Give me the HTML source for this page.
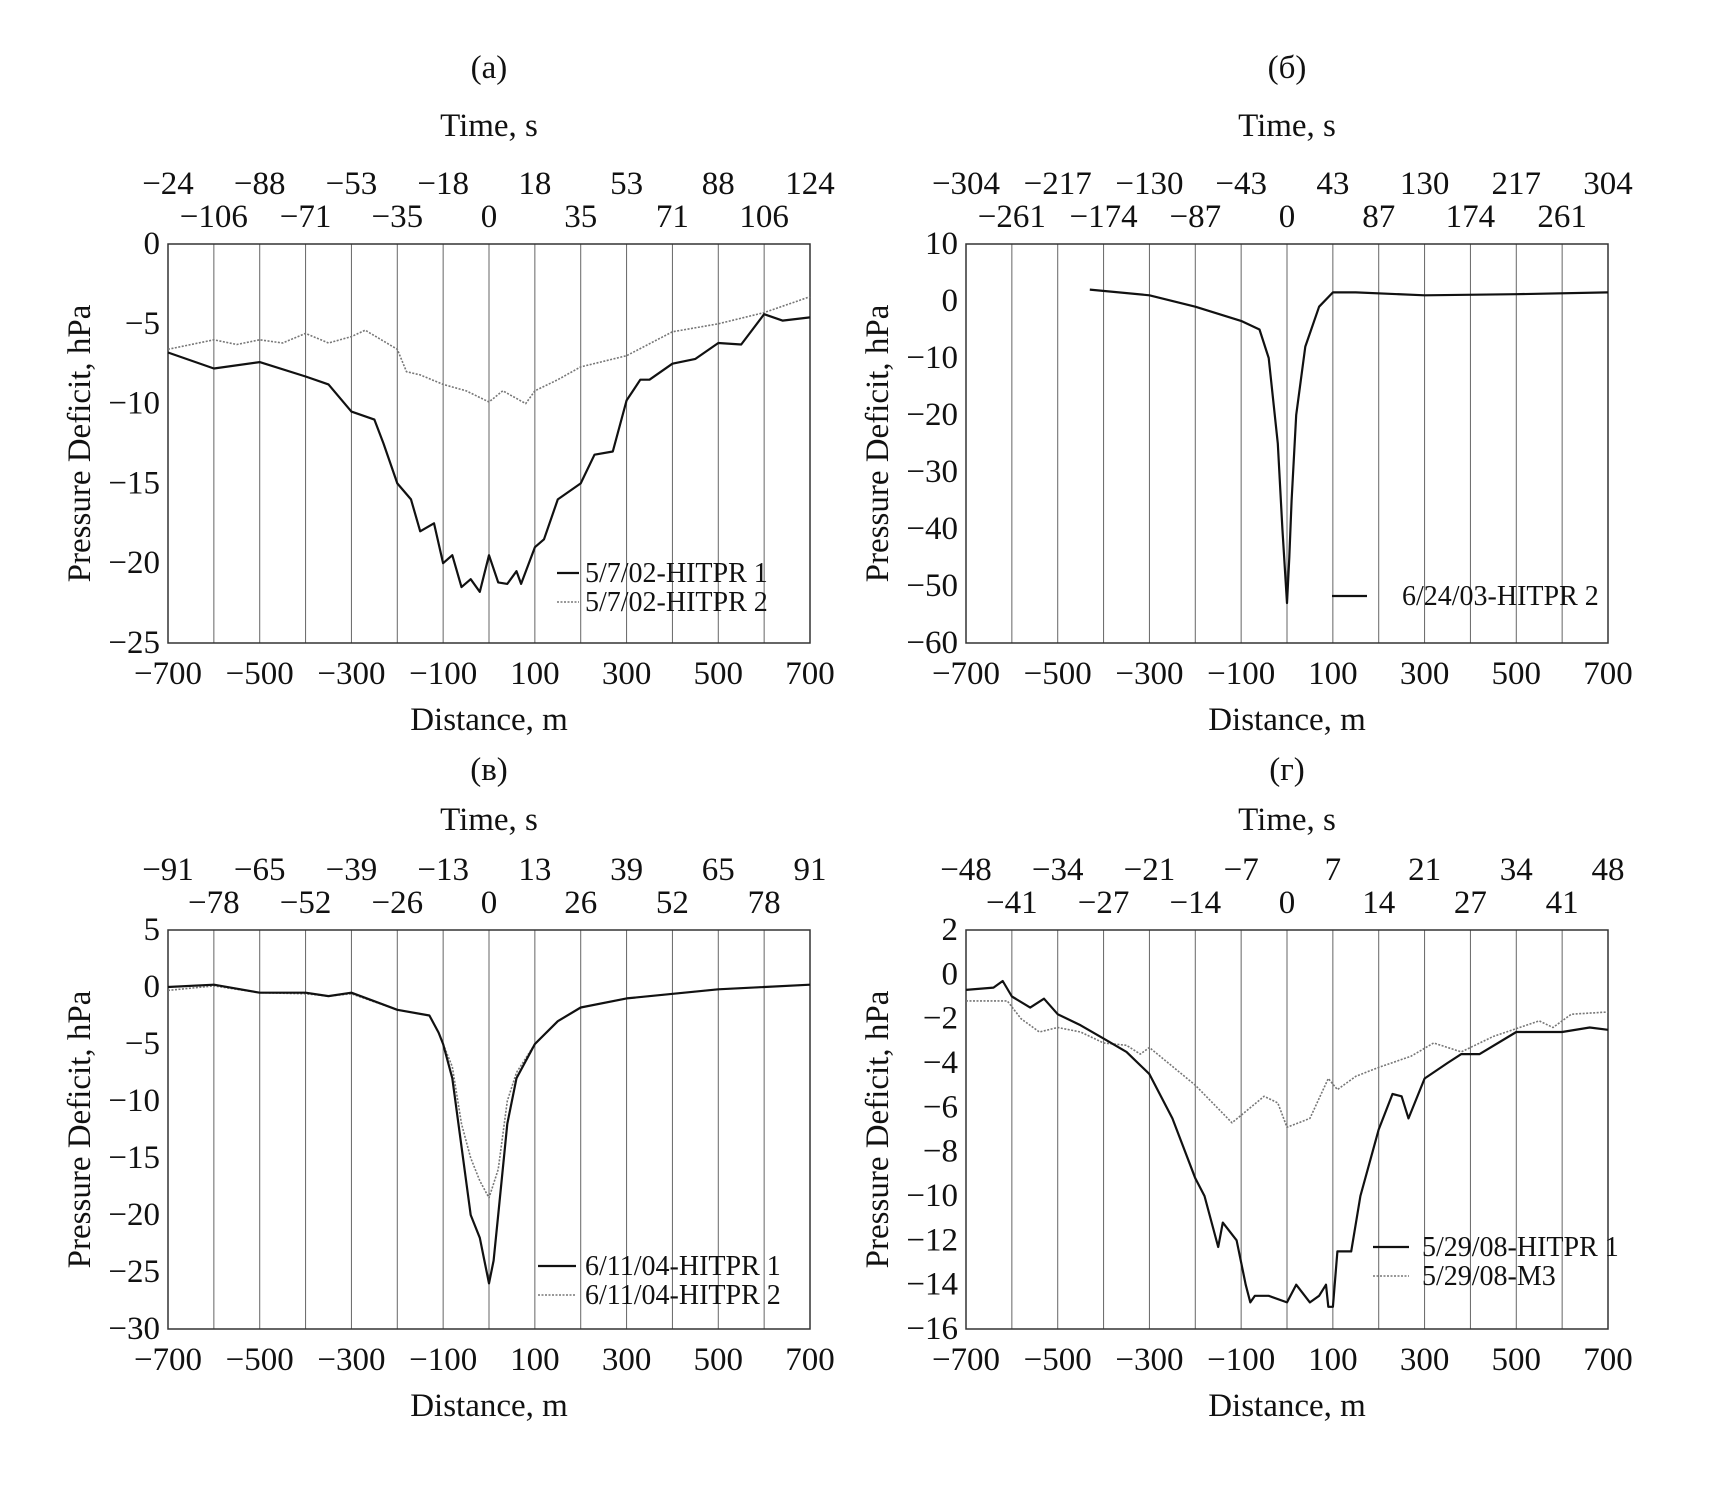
<!DOCTYPE html>
<html><head><meta charset="utf-8"><style>
body{margin:0;background:#fff}
svg text{font-family:"Liberation Serif",serif;fill:#111}
</style></head><body>
<svg id="fig" width="1713" height="1503" viewBox="0 0 1713 1503" xmlns="http://www.w3.org/2000/svg"></svg>
<script>
// ---- data ----
const aHitpr1X=[-700,-600,-500,-400,-350,-300,-250,-230,-200,-170,-150,-120,-100,-80,-60,-40,-20,0,20,40,60,70,100,120,150,200,230,270,300,330,350,400,450,500,550,600,640,700];
const aHitpr1Y=[-6.8,-7.8,-7.4,-8.3,-8.8,-10.5,-11,-12.5,-15,-16,-18,-17.5,-20,-19.5,-21.5,-21,-21.8,-19.5,-21.2,-21.3,-20.5,-21.3,-19,-18.5,-16,-15,-13.2,-13,-9.8,-8.5,-8.5,-7.5,-7.2,-6.2,-6.3,-4.4,-4.8,-4.6];
const aHitpr2X=[-700,-600,-550,-500,-450,-400,-350,-300,-270,-200,-180,-150,-100,-50,0,30,80,100,150,200,300,400,500,600,700];
const aHitpr2Y=[-6.6,-6,-6.3,-6,-6.2,-5.6,-6.2,-5.8,-5.4,-6.6,-8,-8.2,-8.8,-9.2,-9.9,-9.2,-10,-9.2,-8.5,-7.7,-7,-5.5,-5,-4.3,-3.3];
const bX=[-430,-300,-200,-100,-60,-40,-20,-10,0,5,10,20,40,70,100,150,300,500,700];
const bY=[2,1,-1,-3.5,-5,-10,-25,-40,-53,-45,-35,-20,-8,-1,1.5,1.5,1,1.2,1.5];
const vHitpr1X=[-700,-600,-500,-400,-350,-300,-200,-130,-110,-100,-80,-60,-40,-20,-10,0,10,20,40,60,100,150,200,300,500,700];
const vHitpr1Y=[0,0.2,-0.5,-0.5,-0.8,-0.5,-2,-2.5,-4,-5,-8,-14,-20,-22,-24,-26,-24,-20,-12,-8,-5,-3,-1.8,-1,-0.2,0.2];
const vHitpr2X=[-700,-600,-500,-400,-350,-300,-200,-130,-110,-100,-80,-60,-40,-20,0,20,40,60,100,150,200,300,500,700];
const vHitpr2Y=[-0.3,0.1,-0.5,-0.6,-0.8,-0.6,-2,-2.5,-4,-5,-7,-12,-15,-17,-18.5,-16,-10,-7.5,-5,-3,-1.8,-1,-0.2,0.2];
const gHitpr1X=[-700,-640,-620,-600,-560,-530,-500,-450,-400,-350,-300,-250,-200,-180,-150,-140,-110,-90,-80,-70,-40,0,20,50,70,85,90,100,110,140,160,200,230,250,265,300,350,380,420,500,600,660,700];
const gHitpr1Y=[-0.7,-0.6,-0.3,-1,-1.5,-1.1,-1.8,-2.3,-2.9,-3.5,-4.5,-6.5,-9.2,-10,-12.3,-11.2,-12,-14,-14.8,-14.5,-14.5,-14.8,-14,-14.8,-14.5,-14,-15,-15,-12.5,-12.5,-10,-7,-5.4,-5.5,-6.5,-4.7,-4,-3.6,-3.6,-2.6,-2.6,-2.4,-2.5];
const gM3X=[-700,-610,-580,-540,-500,-450,-400,-350,-320,-300,-200,-120,-50,-20,0,50,90,110,150,200,270,320,380,450,550,580,620,700];
const gM3Y=[-1.2,-1.2,-2,-2.6,-2.4,-2.6,-3.1,-3.2,-3.6,-3.3,-5,-6.7,-5.5,-5.8,-6.9,-6.5,-4.7,-5.2,-4.6,-4.2,-3.7,-3.1,-3.5,-2.8,-2.1,-2.4,-1.8,-1.7];
const xTicks=[-700,-500,-300,-100,100,300,500,700];
const aTop1=["\u221224","\u221288","\u221253","\u221218","18","53","88","124"], aTop2=["\u2212106","\u221271","\u221235","0","35","71","106"];
const bTop1=["\u2212304","\u2212217","\u2212130","\u221243","43","130","217","304"], bTop2=["\u2212261","\u2212174","\u221287","0","87","174","261"];
const vTop1=["\u221291","\u221265","\u221239","\u221213","13","39","65","91"], vTop2=["\u221278","\u221252","\u221226","0","26","52","78"];
const gTop1=["\u221248","\u221234","\u221221","\u22127","7","21","34","48"], gTop2=["\u221241","\u221227","\u221214","0","14","27","41"];
const aYTicks=[0,-5,-10,-15,-20,-25], bYTicks=[10,0,-10,-20,-30,-40,-50,-60], vYTicks=[5,0,-5,-10,-15,-20,-25,-30], gYTicks=[2,0,-2,-4,-6,-8,-10,-12,-14,-16];

const svg=document.getElementById('fig');
const NS='http://www.w3.org/2000/svg';
function mk(tag,at,parent){const e=document.createElementNS(NS,tag);for(const k in at)e.setAttribute(k,at[k]);(parent||svg).appendChild(e);return e;}
function fmt(v){return v<0?'\u2212'+(-v):String(v);}
const FS=33;

function panel(p){
  const g=mk('g',{});
  
  
  const L=p.x0,R=p.x0+642,T=p.y0,B=p.y0+399;
  const sx=v=>L+(v+700)/1400*(R-L);
  const sy=v=>T+(p.ymax-v)/(p.ymax-p.ymin)*(B-T);
  const cx=(L+R)/2;
  let t=mk('text',{x:cx,y:T-p.lo,'font-size':FS,'text-anchor':'middle'},g);t.textContent=p.label;
  
  t=mk('text',{x:cx,y:T-p.to,'font-size':FS,'text-anchor':'middle'},g);t.textContent='Time, s';
  
  p.top1.forEach((s,i)=>{const e=mk('text',{x:sx(-700+200*i),y:T-50,'font-size':FS,'text-anchor':'middle'},g);e.textContent=s;
    });
  p.top2.forEach((s,i)=>{const e=mk('text',{x:sx(-600+200*i),y:T-17,'font-size':FS,'text-anchor':'middle'},g);e.textContent=s;
    });
  for(let v=-600;v<=600;v+=100){const l=mk('line',{x1:sx(v),x2:sx(v),y1:T,y2:B,stroke:'#666','stroke-width':1},g);
    }
  const fr=mk('rect',{x:L,y:T,width:R-L,height:B-T,fill:'none',stroke:'#333','stroke-width':1.5},g);
  
  xTicks.forEach(v=>{const e=mk('text',{x:sx(v),y:B+41,'font-size':FS,'text-anchor':'middle'},g);e.textContent=fmt(v);
    });
  t=mk('text',{x:cx,y:B+87,'font-size':FS,'text-anchor':'middle'},g);t.textContent='Distance, m';
  
  p.yt.forEach(v=>{const e=mk('text',{x:L-8,y:sy(v)+10,'font-size':FS,'text-anchor':'end'},g);e.textContent=fmt(v);
    });
  t=mk('text',{x:0,y:0,'font-size':FS,'text-anchor':'middle',transform:`translate(${L-78},${(T+B)/2}) rotate(-90)`},g);t.textContent='Pressure Deficit, hPa';
  
  p.series.forEach(s=>{
    const pts=s.x.map((v,i)=>sx(v).toFixed(1)+','+sy(s.y[i]).toFixed(1)).join(' ');
    const pl=mk('polyline',{points:pts,fill:'none',stroke:s.dot?'#777':'#111','stroke-width':s.dot?1.6:2.2,'stroke-dasharray':s.dot?'2,1.5':'none','stroke-linejoin':'round'},g);
    
  });
  p.legend.forEach((s,i)=>{
    const y=p.ly+i*29;
    const l=mk('line',{x1:p.lx,x2:p.lx+(s.w||22),y1:y,y2:y,stroke:s.dot?'#777':'#111','stroke-width':s.dot?1.6:2.2,'stroke-dasharray':s.dot?'2,1.5':'none'},g);
    
    const e=mk('text',{x:p.lx+(s.tx||28),y:y+9,'font-size':28},g);e.textContent=s.t;
    
  });
}
panel({name:'panel-a',label:'(a)',x0:168,y0:244,lo:166,to:108,ymax:0,ymin:-25,yt:aYTicks,top1:aTop1,top2:aTop2,
  series:[{x:aHitpr2X,y:aHitpr2Y,dot:1,nm:'series-hitpr2'},{x:aHitpr1X,y:aHitpr1Y,nm:'series-hitpr1'}],
  lx:557,ly:573,legend:[{t:'5/7/02-HITPR 1'},{t:'5/7/02-HITPR 2',dot:1}]});
panel({name:'panel-b',label:'(б)',x0:966,y0:244,lo:166,to:108,ymax:10,ymin:-60,yt:bYTicks,top1:bTop1,top2:bTop2,
  series:[{x:bX,y:bY,nm:'series-hitpr2'}],
  lx:1332,ly:596,legend:[{t:'6/24/03-HITPR 2',w:35,tx:70}]});
panel({name:'panel-v',label:'(в)',x0:168,y0:930,lo:150,to:100,ymax:5,ymin:-30,yt:vYTicks,top1:vTop1,top2:vTop2,
  series:[{x:vHitpr2X,y:vHitpr2Y,dot:1,nm:'series-hitpr2'},{x:vHitpr1X,y:vHitpr1Y,nm:'series-hitpr1'}],
  lx:538,ly:1266,legend:[{t:'6/11/04-HITPR 1',w:38,tx:47},{t:'6/11/04-HITPR 2',dot:1,w:38,tx:47}]});
panel({name:'panel-g',label:'(г)',x0:966,y0:930,lo:150,to:100,ymax:2,ymin:-16,yt:gYTicks,top1:gTop1,top2:gTop2,
  series:[{x:gM3X,y:gM3Y,dot:1,nm:'series-m3'},{x:gHitpr1X,y:gHitpr1Y,nm:'series-hitpr1'}],
  lx:1373,ly:1247,legend:[{t:'5/29/08-HITPR 1',w:36,tx:49},{t:'5/29/08-M3',dot:1,w:36,tx:49}]});
</script>
</body></html>
